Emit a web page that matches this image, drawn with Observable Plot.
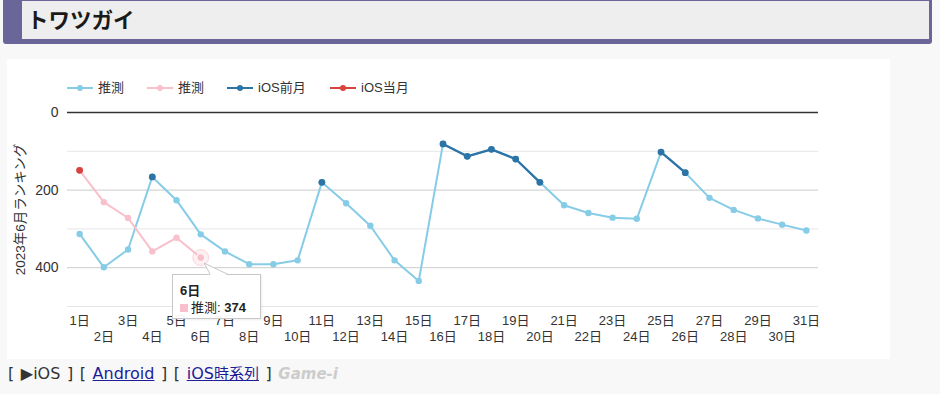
<!DOCTYPE html>
<html><head><meta charset="utf-8">
<script src="https://cdn.jsdelivr.net/npm/d3@7"></script>
<script src="https://cdn.jsdelivr.net/npm/@observablehq/plot@0.6"></script>
<style>
body{margin:0;background:#f8f8f8;font-family:"Liberation Sans",Arial,"Noto Sans CJK JP",sans-serif;width:940px;height:394px;overflow:hidden;position:relative}
#hdr{position:absolute;left:3px;top:0;width:929px;height:44px;background:#6a6699;border-radius:0 0 3px 3px}
#hdr .in{position:absolute;left:19px;top:1px;width:907px;height:38px;background:#eeeeee}
#hdr .t{position:absolute;left:5px;top:4px;font-size:21.5px;font-weight:bold;color:#1a1a1a;font-family:"Noto Sans CJK JP",sans-serif;line-height:28px}
#box{position:absolute;left:7px;top:59px;width:883px;height:300px;background:#fff}
.lg{position:absolute;top:21px;height:16px;font-size:13px;color:#333;white-space:nowrap;line-height:16px}
.lg svg{vertical-align:top;margin-right:5px}
#chart{position:absolute;left:0;top:41px}
#tip{position:absolute;left:165px;top:215px;width:87px;height:43px;background:rgba(255,255,255,0.95);border:1px solid #c8c8c8;font-size:13px;color:#222;box-shadow:1px 1px 2px rgba(0,0,0,0.08)}
#tip .d{position:absolute;left:7px;top:5px;font-weight:bold}
#tip .v{position:absolute;left:7px;top:22px;white-space:nowrap}
#tip .sq{display:inline-block;width:8px;height:8px;margin-right:3px}
#foot{position:absolute;left:8px;top:364px;font-size:16px;line-height:19px;color:#333;font-family:"DejaVu Sans","Noto Sans CJK JP",sans-serif;white-space:nowrap;word-spacing:1.5px}
#foot a{color:#1d1d9a;text-decoration:underline}
#foot .cj{font-size:15px}
#foot .g{color:#cccccc;font-style:italic;font-weight:bold;font-size:15px}
</style></head>
<body>
<div id="hdr"><div class="in"><div class="t">トワツガイ</div></div></div>
<div id="box"><div id="legend"></div><div id="chart"></div></div>
<div id="foot">[ ▶iOS ] [ <a>Android</a> ] [ <a>iOS<span class="cj">時系列</span></a> ] <span class="g">Game-i</span></div>
<script>
const title = "2023年6月ランキング";
const days = d3.range(1, 32);
const dayLabel = d => d + "日";
const seriesNames = ["推測", "推測", "iOS前月", "iOS当月"];
const seriesColors = ["#87cce6", "#f9c0cc", "#2c73a6", "#d9433f"];
const yTicks = [0, 200, 400];
// 推測 (light blue), days 1..31
const estA = [313,399,353,166,226,314,358,391,391,381,180,234,292,381,434,81,113,95,120,180,239,259,271,274,102,155,220,251,273,289,304];
// 推測 (pink), days 1..6
const estBDays = [1,2,3,4,5,6];
const estB = [149,231,272,358,323,374];
// iOS前月, null where absent
const iosPrev = [null,null,null,166,null,null,null,null,null,null,180,null,null,null,null,81,113,95,120,180,null,null,null,null,102,155,null,null,null,null,null];
// iOS当月
const iosCurDays = [1];
const iosCur = [149];
const tipIndex = 5;

const A = days.map((d,i)=>({day:d, v:estA[i]}));
const B = estBDays.map((d,i)=>({day:d, v:estB[i]}));
const P = days.map((d,i)=>({day:d, v:iosPrev[i]}));
const C = iosCurDays.map((d,i)=>({day:d, v:iosCur[i]}));

// legend
const leg = document.getElementById("legend");
const legLeft = [60, 140, 220, 323];
seriesNames.forEach((n,i)=>{
  const el = document.createElement("div");
  el.className = "lg";
  el.style.left = legLeft[i] + "px";
  el.innerHTML = `<svg width="26" height="16"><line x1="0" x2="26" y1="8" y2="8" stroke="${seriesColors[i]}" stroke-width="2"/><circle cx="13" cy="8" r="3" fill="${seriesColors[i]}"/></svg>${n}`;
  leg.appendChild(el);
});

const W = 883, H = 257;
const chart = Plot.plot({
  width: W, height: H,
  marginLeft: 60, marginRight: 72, marginTop: 12, marginBottom: 51,
  style: {fontFamily: '"Liberation Sans", Arial, "Noto Sans CJK JP", sans-serif', background: "transparent", color: "#333"},
  x: {type: "point", domain: days, padding: 0.5, round: false},
  y: {domain: [0, 500], reverse: true},
  marks: [
    Plot.ruleY([100, 300, 500], {stroke: "#e6e6e6"}),
    Plot.ruleY([200, 400], {stroke: "#cccccc"}),
    Plot.ruleY([0], {stroke: "#333", strokeWidth: 1.5}),
    Plot.axisY(yTicks, {tickSize: 0, tickPadding: 9, fontSize: 14, fill: "#333", label: null}),
    Plot.text([title], {frameAnchor: "left", textAnchor: "middle", rotate: -90, dx: -47, fontSize: 13.5, fill: "#333"}),
    Plot.axisX(days.filter(d => d % 2 === 1), {tickSize: 0, tickPadding: 9, tickFormat: dayLabel, fontSize: 13, fill: "#333", label: null}),
    Plot.axisX(days.filter(d => d % 2 === 0), {tickSize: 0, tickPadding: 25, tickFormat: dayLabel, fontSize: 13, fill: "#333", label: null}),
    Plot.line(A, {x: "day", y: "v", stroke: seriesColors[0], strokeWidth: 2}),
    Plot.dot(A, {x: "day", y: "v", r: 3.2, fill: seriesColors[0]}),
    Plot.line(B, {x: "day", y: "v", stroke: seriesColors[1], strokeWidth: 2}),
    Plot.dot(B, {x: "day", y: "v", r: 3.2, fill: seriesColors[1]}),
    Plot.line(P, {x: "day", y: "v", stroke: seriesColors[2], strokeWidth: 2.2}),
    Plot.dot(P, {x: "day", y: "v", r: 3.4, fill: seriesColors[2]}),
    Plot.dot(C, {x: "day", y: "v", r: 3.4, fill: seriesColors[3]}),
    Plot.dot([B[tipIndex]], {x: "day", y: "v", r: 8, fill: seriesColors[1], fillOpacity: 0.25, stroke: seriesColors[1], strokeOpacity: 0.6, strokeWidth: 1}),
    Plot.dot([B[tipIndex]], {x: "day", y: "v", r: 4, fill: seriesColors[1], stroke: "#fff", strokeWidth: 1})
  ]
});
document.getElementById("chart").appendChild(chart);

// tooltip (text from data)
const box = document.getElementById("box");
const sx = chart.scale("x"), sy = chart.scale("y");
const px = sx.apply(B[tipIndex].day), py = sy.apply(B[tipIndex].v) + 41;
const tip = document.createElement("div");
tip.id = "tip";
tip.innerHTML = `<div class="d">${dayLabel(B[tipIndex].day)}</div><div class="v"><span class="sq" style="background:${seriesColors[1]}"></span>${seriesNames[1]}: <b>${B[tipIndex].v}</b></div>`;
box.appendChild(tip);
const s2 = document.createElementNS("http://www.w3.org/2000/svg","svg");
s2.setAttribute("width", W); s2.setAttribute("height", 300);
s2.style.position="absolute"; s2.style.left="0"; s2.style.top="0"; s2.style.pointerEvents="none";
const tipTop = 215;
s2.innerHTML = `<polygon points="${px+4},${py+6} ${px+10},${tipTop+1.5} ${px+28},${tipTop+1.5}" fill="#fff"/><polyline points="${px+10},${tipTop+0.5} ${px+4},${py+6} ${px+28},${tipTop+0.5}" fill="none" stroke="#c8c8c8" stroke-width="1"/>`;
box.appendChild(s2);
</script>
</body></html>
